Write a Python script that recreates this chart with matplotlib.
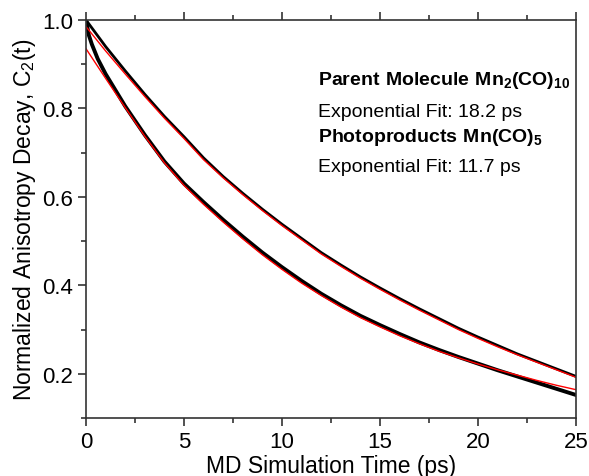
import numpy as np
import matplotlib
matplotlib.use("Agg")
import matplotlib.pyplot as plt
from matplotlib.ticker import MultipleLocator

plt.rcParams['font.family'] = ['Liberation Sans', 'DejaVu Sans']
plt.rcParams['mathtext.fontset'] = 'custom'
plt.rcParams['mathtext.rm'] = 'Liberation Sans'
plt.rcParams['mathtext.bf'] = 'Liberation Sans:bold'

# time axis (ps)
t = [0, 1, 2, 3, 4, 5, 6, 7, 8, 9, 10, 11, 12, 13, 14, 15, 16, 17, 18, 19, 20,
     21, 22, 23, 24, 25]

# parent molecule Mn2(CO)10 - MD data and fit
parent_md = [1.000, 0.940, 0.885, 0.832, 0.782, 0.736, 0.688, 0.646, 0.608,
             0.572, 0.538, 0.506, 0.474, 0.446, 0.419, 0.394, 0.370, 0.347,
             0.325, 0.303, 0.283, 0.264, 0.245, 0.228, 0.211, 0.194]
parent_fit = [0.985, 0.930, 0.878, 0.827, 0.778, 0.732, 0.684, 0.643, 0.605,
              0.569, 0.535, 0.503, 0.471, 0.443, 0.416, 0.391, 0.367, 0.344,
              0.322, 0.300, 0.280, 0.261, 0.243, 0.226, 0.209, 0.192]

# photoproducts Mn(CO)5 - MD data (with fast initial drop) and fit
t_photo = [0, 0.15, 0.3, 0.6, 1, 2, 3, 4, 5, 6, 7, 8, 9, 10, 11, 12, 13, 14,
           15, 16, 17, 18, 19, 20, 21, 22, 23, 24, 25]
photo_md = [1.000, 0.965, 0.945, 0.912, 0.878, 0.805, 0.740, 0.680, 0.630,
            0.588, 0.548, 0.510, 0.474, 0.441, 0.410, 0.381, 0.355, 0.331,
            0.310, 0.290, 0.271, 0.254, 0.238, 0.223, 0.208, 0.194, 0.180,
            0.166, 0.152]
photo_fit = [0.935, 0.868, 0.802, 0.737, 0.677, 0.626, 0.583, 0.543, 0.505,
             0.469, 0.436, 0.405, 0.377, 0.351, 0.327, 0.306, 0.286, 0.268,
             0.251, 0.236, 0.222, 0.209, 0.197, 0.185, 0.174, 0.164]

fig = plt.figure(figsize=(5.89, 4.77), dpi=100)
ax = fig.add_axes([0.146, 0.1216, 0.832, 0.8344])

ax.plot(t, parent_md, color='black', lw=2.0)
ax.plot(t_photo, photo_md, color='black', lw=2.8)
ax.plot(t, parent_fit, color='red', lw=1.0)
ax.plot(t, photo_fit, color='red', lw=1.0)

ax.set_xlim(0, 25)
ax.set_ylim(0.1, 1.0)
ax.xaxis.set_major_locator(MultipleLocator(5))
ax.xaxis.set_minor_locator(MultipleLocator(2.5))
ax.yaxis.set_minor_locator(MultipleLocator(0.1))
ax.set_yticks([0.2, 0.4, 0.6, 0.8, 1.0])
ax.yaxis.set_major_formatter(plt.FormatStrFormatter('%.1f'))

ax.tick_params(which='both', direction='out', top=True, right=False,
               labelsize=16, width=1.2, color='#333333')
ax.tick_params(which='major', length=6)
ax.tick_params(which='minor', length=3.5)
for s in ax.spines.values():
    s.set_linewidth(1.2)
    s.set_color('#333333')

ax.set_xlabel('MD Simulation Time (ps)', fontsize=16.5, labelpad=1)
ax.set_ylabel('Normalized Anisotropy Decay, C$_2$(t)', fontsize=16.5,
              labelpad=3)

tx = 0.474
fs = 14
ax.text(tx, 0.839, r'$\mathbf{Parent\ Molecule\ Mn_2(CO)_{10}}$',
        transform=ax.transAxes, fontsize=fs)
ax.text(tx, 0.759, 'Exponential Fit: 18.2 ps', transform=ax.transAxes,
        fontsize=fs)
ax.text(tx, 0.696, r'$\mathbf{Photoproducts\ Mn(CO)_5}$',
        transform=ax.transAxes, fontsize=fs)
ax.text(tx, 0.621, 'Exponential Fit: 11.7 ps', transform=ax.transAxes,
        fontsize=fs)

fig.savefig('out.png', dpi=100)
